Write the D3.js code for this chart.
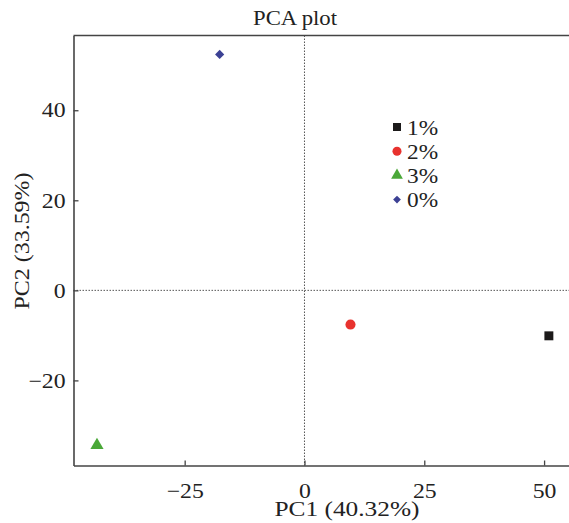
<!DOCTYPE html>
<html lang="en">
<head>
  <meta charset="UTF-8">
  <title>PCA plot</title>
  <script src="https://d3js.org/d3.v7.min.js"></script>
  <style>
    body {
      margin: 0;
      background: #fff;
      font-family: "Liberation Serif", "Times New Roman", serif;
    }
    text { fill: #222; }
  </style>
</head>
<body>
<div id="chart"></div>

<script>
  // data
  var groups = ["1%", "2%", "3%", "0%"];
  var pc1 = [51, 9.6, -43.3, -17.7];
  var pc2 = [-10.1, -7.6, -34.4, 52.4];
  var colors = ["#1c1a1a", "#e8322e", "#4aa838", "#3c4194"];
  var shapes = [d3.symbolSquare, d3.symbolCircle, d3.symbolTriangle, d3.symbolSquare];
  var xTicks = [-25, 0, 25, 50];
  var yTicks = [-20, 0, 20, 40];

  var width = 569, height = 523;
  var plotLeft = 73.5, plotRight = 569, plotTop = 35.5, plotBottom = 465.5;

  var svg = d3.select("#chart").append("svg")
    .attr("width", width)
    .attr("height", height);

  var x = d3.scaleLinear().domain([-48.2, 55.2]).range([plotLeft, plotRight]);
  var y = d3.scaleLinear().domain([-38.9, 56.6]).range([plotBottom, plotTop]);

  var fmt = function(d) { return d < 0 ? "\u2212" + Math.abs(d) : d; };

  // the reference font runs a bit wider than Liberation Serif
  function widen(sel, k) {
    sel.each(function() {
      var w = this.getComputedTextLength();
      d3.select(this).attr("textLength", w * k).attr("lengthAdjust", "spacingAndGlyphs");
    });
  }

  // zero lines
  svg.append("line")
    .attr("x1", x(0)).attr("x2", x(0))
    .attr("y1", plotTop).attr("y2", plotBottom)
    .attr("stroke", "#555").attr("stroke-width", 1)
    .attr("stroke-dasharray", "1.5,1.5");
  svg.append("line")
    .attr("x1", plotLeft).attr("x2", plotRight)
    .attr("y1", y(0)).attr("y2", y(0))
    .attr("stroke", "#555").attr("stroke-width", 1)
    .attr("stroke-dasharray", "1.5,1.5");

  // frame top
  svg.append("line")
    .attr("x1", plotLeft).attr("x2", plotRight)
    .attr("y1", plotTop).attr("y2", plotTop)
    .attr("stroke", "#444").attr("stroke-width", 1.6);

  var xAxis = svg.append("g")
    .attr("transform", "translate(0," + plotBottom + ")")
    .call(d3.axisBottom(x).tickValues(xTicks).tickSizeInner(-5).tickSizeOuter(0).tickFormat(fmt));
  xAxis.select(".domain").attr("stroke", "#444").attr("stroke-width", 1.6);
  xAxis.selectAll(".tick line").attr("stroke", "#444").attr("stroke-width", 1.3);
  xAxis.selectAll(".tick text")
    .attr("y", 18).attr("dy", "0.71em")
    .attr("font-family", "Liberation Serif, serif").attr("font-size", 21)
    .attr("fill", "#222")
    .call(widen, 1.13);

  var yAxis = svg.append("g")
    .attr("transform", "translate(" + plotLeft + ",0)")
    .call(d3.axisLeft(y).tickValues(yTicks).tickSizeInner(-5).tickSizeOuter(0).tickFormat(fmt));
  yAxis.select(".domain").attr("stroke", "#444").attr("stroke-width", 1.6);
  yAxis.selectAll(".tick line").attr("stroke", "#444").attr("stroke-width", 1.3);
  yAxis.selectAll(".tick text")
    .attr("x", -8)
    .attr("font-family", "Liberation Serif, serif").attr("font-size", 21)
    .attr("fill", "#222")
    .call(widen, 1.13);

  // titles
  svg.append("text")
    .attr("x", 295).attr("y", 25)
    .attr("text-anchor", "middle")
    .attr("font-size", 20.5)
    .attr("textLength", 84).attr("lengthAdjust", "spacingAndGlyphs")
    .text("PCA plot");

  svg.append("text")
    .attr("x", 347).attr("y", 516)
    .attr("text-anchor", "middle")
    .attr("font-size", 21)
    .attr("textLength", 145).attr("lengthAdjust", "spacingAndGlyphs")
    .text("PC1 (40.32%)");

  svg.append("text")
    .attr("transform", "translate(29,241) rotate(-90)")
    .attr("text-anchor", "middle")
    .attr("font-size", 22)
    .attr("textLength", 137).attr("lengthAdjust", "spacingAndGlyphs")
    .text("PC2 (33.59%)");

  // points
  var pointSizes = [80, 80, 75, 42];
  svg.append("g").selectAll("path")
    .data(groups)
    .join("path")
    .attr("d", function(d, i) { return d3.symbol(shapes[i], pointSizes[i])(); })
    .attr("transform", function(d, i) {
      return "translate(" + x(pc1[i]) + "," + y(pc2[i]) + ")" + (i === 3 ? " rotate(45)" : "");
    })
    .attr("fill", function(d, i) { return colors[i]; });

  // legend
  var legendSizes = [64, 64, 60, 30];
  var legend = svg.append("g").attr("transform", "translate(397,127)");
  var row = legend.selectAll("g")
    .data(groups)
    .join("g")
    .attr("transform", function(d, i) { return "translate(0," + (i * 24.2) + ")"; });
  row.append("path")
    .attr("d", function(d, i) { return d3.symbol(shapes[i], legendSizes[i])(); })
    .attr("transform", function(d, i) { return i === 3 ? "rotate(45)" : null; })
    .attr("fill", function(d, i) { return colors[i]; });
  row.append("text")
    .attr("x", 10).attr("dy", "0.35em")
    .attr("font-size", 22)
    .text(function(d) { return d; })
    .call(widen, 1.06);
</script>
</body>
</html>
